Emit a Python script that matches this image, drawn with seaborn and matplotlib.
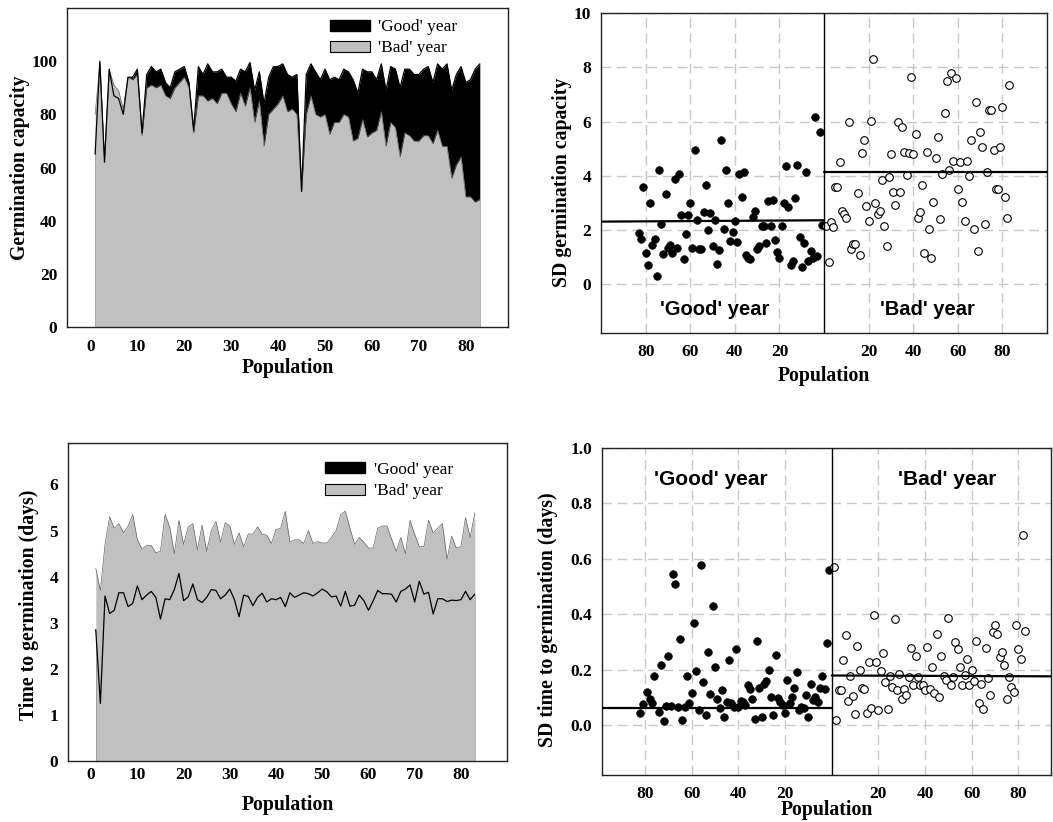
import numpy as np
import matplotlib
matplotlib.use("Agg")
import matplotlib.pyplot as plt
from matplotlib.patches import Patch
import seaborn as sns
import pandas as pd

# populations 1..83
population = np.arange(1, 84)

# germination capacity (%)
gc_good = [65, 100, 62, 97, 87, 86, 80, 94, 94, 97,
           73, 95, 98, 96, 97, 92, 90, 96, 97, 98,
           92, 74, 98, 95, 99, 96, 96, 97, 94, 94,
           92.5, 97, 96, 99.5, 89, 96, 84, 94, 98, 98,
           99, 95, 94, 95, 51, 95, 99, 96, 93, 97,
           93, 94, 93, 97, 96, 93, 88, 97, 96, 96,
           93, 99, 89, 98, 97, 90, 97, 97, 95, 95,
           97, 98, 92, 99, 97, 99, 89, 95, 98, 92,
           93, 97, 99]
gc_bad = [80, 99, 63, 97, 91, 89, 82, 94, 93, 95,
          72, 90, 91, 90, 91, 87, 86, 90, 92, 94,
          90, 73, 87, 87, 85, 86, 84, 88, 88, 84,
          81, 88, 83, 90, 77, 85, 68, 80, 82, 84,
          87, 81, 82, 80, 51, 80, 87, 80, 79, 80,
          72.5, 77, 77, 80, 79, 70, 71, 78, 71.5, 73,
          74, 81, 68, 77, 75, 64, 73, 72, 70, 70,
          72, 72, 69, 74, 68, 68, 56, 61, 64, 49,
          49, 47, 48]

# time to germination (days)
tg_good = [2.85, 1.25, 3.58, 3.2, 3.27, 3.65, 3.65, 3.35, 3.42, 3.8,
           3.5, 3.6, 3.68, 3.55, 3.08, 3.52, 3.5, 3.72, 4.07, 3.48,
           3.56, 3.84, 3.5, 3.44, 3.55, 3.72, 3.7, 3.52, 3.6, 3.73,
           3.5, 3.13, 3.6, 3.57, 3.37, 3.55, 3.64, 3.45, 3.52, 3.5,
           3.55, 3.35, 3.65, 3.55, 3.6, 3.65, 3.63, 3.58, 3.65, 3.73,
           3.67, 3.56, 3.58, 3.36, 3.68, 3.36, 3.38, 3.6, 3.48, 3.27,
           3.47, 3.7, 3.63, 3.63, 3.62, 3.45, 3.68, 3.73, 3.82, 3.45,
           3.9, 3.62, 3.66, 3.19, 3.52, 3.52, 3.46, 3.49, 3.48, 3.5,
           3.68, 3.5, 3.62]
tg_bad = [4.18, 3.7, 4.7, 5.3, 5.05, 5.15, 4.95, 5.1, 5.35, 4.8,
          4.6, 4.68, 4.68, 4.52, 4.55, 5.35, 5.08, 4.5, 5.22, 4.7,
          5.08, 5.15, 4.58, 5.12, 4.55, 5.0, 5.2, 4.75, 5.17, 5.1,
          4.7, 4.95, 4.65, 4.93, 4.92, 5.08, 4.92, 4.9, 4.72, 5.02,
          5.05, 5.42, 4.75, 4.8, 4.8, 4.72, 5.0, 4.72, 4.76, 4.73,
          4.73, 4.85, 5.0, 5.35, 5.42, 5.05, 4.7, 4.85, 4.75, 4.62,
          4.62, 5.05, 5.1, 5.1, 4.82, 4.55, 4.85, 4.5, 5.22, 4.92,
          4.65, 4.65, 5.22, 4.95, 5.05, 5.15, 4.38, 4.88, 4.62, 4.65,
          5.28, 4.85, 5.38]

# SD germination capacity, pops 1..83
sd_gc_good = [2.17, 5.62, 1.04, 6.17, 0.98, 1.23, 0.86, 4.15, 1.53, 0.65,
              1.75, 4.39, 3.19, 0.86, 0.71, 2.86, 4.36, 3.0, 2.15, 0.96,
              1.2, 1.62, 3.09, 2.15, 3.07, 1.53, 2.15, 2.15, 1.41, 1.29,
              2.72, 2.48, 0.92, 0.98, 1.07, 4.15, 3.21, 4.07, 1.56, 2.33,
              1.94, 1.6, 3.0, 4.23, 2.02, 5.31, 1.26, 0.74, 2.36, 1.41,
              2.64, 2.0, 3.66, 2.67, 1.29, 1.29, 2.37, 4.97, 1.35, 3.0,
              2.54, 1.87, 0.92, 2.54, 4.05, 1.35, 3.87, 1.17, 1.44, 1.35,
              3.34, 1.1, 2.23, 4.23, 0.31, 1.68, 1.44, 3.0, 0.71, 1.14,
              3.6, 1.68, 1.90]
sd_gc_bad = [2.15, 0.83, 2.3, 2.11, 3.58, 3.58, 4.52, 2.7, 2.58, 2.43,
             6.0, 1.29, 1.5, 1.5, 3.37, 1.08, 4.85, 5.31, 2.88, 2.33,
             6.04, 8.32, 2.98, 2.6, 2.7, 3.83, 2.15, 1.41, 3.95, 4.79,
             3.41, 2.94, 5.99, 3.41, 5.79, 4.88, 4.02, 4.85, 7.63, 4.81,
             5.56, 2.45, 2.67, 3.66, 1.14, 4.87, 2.05, 0.96, 3.03, 4.66,
             5.44, 2.42, 4.07, 6.32, 7.51, 4.2, 7.79, 4.54, 7.61, 3.53,
             4.5, 3.04, 2.33, 4.54, 4.01, 5.34, 2.02, 6.72, 1.23, 5.61,
             5.06, 2.21, 4.15, 6.42, 6.42, 4.97, 3.53, 3.53, 5.06, 6.54,
             3.23, 2.45, 7.36]
sd_gc_good_mean = [2.31, 2.36]
sd_gc_bad_mean = [4.15, 4.15]

# SD time to germination
sd_tg_good_pop = [82, 81, 79, 78, 77, 76, 74, 73, 72, 71, 70, 69, 68, 67, 66, 65,
                  64, 63, 62, 61, 60, 59, 58, 57, 56, 55, 54, 53, 52, 51, 50, 49,
                  48, 47, 46, 45, 44, 43, 42, 41, 40, 39, 38, 37, 36, 35, 34, 33,
                  32, 31, 30, 29, 28, 27, 26, 25, 24, 23, 22, 21, 20, 19, 18, 17,
                  16, 15, 14, 13, 12, 11, 10, 9, 8, 7, 6, 5, 4, 3, 2, 1]
sd_tg_good = [0.045, 0.076, 0.118, 0.093, 0.081, 0.178, 0.048, 0.218, 0.015, 0.069,
              0.251, 0.069, 0.545, 0.509, 0.064, 0.309, 0.018, 0.064, 0.176, 0.079,
              0.115, 0.367, 0.194, 0.055, 0.576, 0.155, 0.036, 0.264, 0.113, 0.43,
              0.21, 0.093, 0.063, 0.125, 0.03, 0.085, 0.234, 0.081, 0.064, 0.273,
              0.067, 0.088, 0.085, 0.073, 0.143, 0.13, 0.093, 0.021, 0.304, 0.133,
              0.03, 0.148, 0.158, 0.2, 0.103, 0.036, 0.253, 0.097, 0.085, 0.073,
              0.042, 0.164, 0.079, 0.103, 0.133, 0.19, 0.055, 0.067, 0.061, 0.109,
              0.03, 0.149, 0.091, 0.103, 0.084, 0.133, 0.176, 0.13, 0.295, 0.56]
sd_tg_bad = [0.572, 0.018, 0.125, 0.125, 0.234, 0.324, 0.088, 0.178, 0.105, 0.039,
             0.287, 0.2, 0.133, 0.13, 0.042, 0.227, 0.063, 0.398, 0.227, 0.055,
             0.194, 0.261, 0.155, 0.057, 0.178, 0.137, 0.382, 0.125, 0.184, 0.093,
             0.13, 0.109, 0.173, 0.279, 0.143, 0.251, 0.173, 0.143, 0.143, 0.127,
             0.281, 0.13, 0.21, 0.115, 0.33, 0.1, 0.248, 0.176, 0.164, 0.388,
             0.143, 0.173, 0.3, 0.276, 0.208, 0.143, 0.182, 0.239, 0.143, 0.2,
             0.158, 0.304, 0.079, 0.148, 0.058, 0.279, 0.17, 0.108, 0.337, 0.361,
             0.327, 0.245, 0.264, 0.218, 0.095, 0.173, 0.136, 0.118, 0.36, 0.273,
             0.239, 0.687, 0.339]
sd_tg_good_mean = [0.061, 0.061]
sd_tg_bad_mean = [0.179, 0.176]

mirror_ticks = [-80, -60, -40, -20, 20, 40, 60, 80]
mirror_labels = ["80", "60", "40", "20", "20", "40", "60", "80"]

sns.set_style("white")
plt.rcParams['font.family'] = ['Liberation Serif', 'DejaVu Serif']
plt.rcParams['font.weight'] = 'bold'
plt.rcParams['axes.labelweight'] = 'bold'
for k in ['text.color', 'axes.labelcolor', 'xtick.color', 'ytick.color']:
    plt.rcParams[k] = 'black'

GREY = '#c0c0c0'
TICK_FS = 12.5
LABEL_FS = 14.2
fig = plt.figure(figsize=(10.53, 8.22), dpi=100)


def style(ax):
    for s in ax.spines.values():
        s.set_color('#222222')
        s.set_linewidth(1.0)
    ax.tick_params(length=0, labelsize=TICK_FS)
    ax.xaxis.label.set_size(LABEL_FS)
    ax.yaxis.label.set_size(LABEL_FS)
    ax.xaxis.label.set_va('center')
    ax.yaxis.label.set_va('center')


def area_panel(ax, good, bad):
    ax.fill_between(population, 0, good, color='black', lw=0)
    ax.fill_between(population, 0, bad, color=GREY, lw=0)
    ax.plot(population, bad, color='#666666', lw=0.5)
    sns.lineplot(x=population, y=good, color='black', lw=0.9, ax=ax)
    handles = [Patch(facecolor='black', edgecolor='black', label="'Good' year"),
               Patch(facecolor=GREY, edgecolor='black', lw=0.8, label="'Bad' year")]
    return handles


legend_kw = dict(loc='upper left', frameon=False,
                 prop={'family': 'Liberation Serif', 'weight': 'normal', 'size': 12.5},
                 handlelength=2.3, handleheight=0.6, labelspacing=0.3, borderpad=0,
                 borderaxespad=0, handletextpad=0.5)

# panel 1
ax1 = fig.add_axes([0.0636, 0.6022, 0.4188, 0.388])
h = area_panel(ax1, gc_good, gc_bad)
ax1.set_xlim(-5, 89)
ax1.set_ylim(0, 120)
ax1.set_xticks(range(0, 81, 10))
ax1.set_yticks(range(0, 101, 20))
ax1.set_xlabel('Population')
ax1.set_ylabel('Germination capacity')
style(ax1)
ax1.tick_params(axis='x', pad=9)
ax1.tick_params(axis='y', pad=7)
ax1.xaxis.set_label_coords(0.5, -0.13)
ax1.yaxis.set_label_coords(-0.107, 0.5)
ax1.legend(handles=h, bbox_to_anchor=(0.596, 0.965), **legend_kw)

# panel 3
ax3 = fig.add_axes([0.0646, 0.0742, 0.417, 0.3869])
h = area_panel(ax3, tg_good, tg_bad)
ax3.set_xlim(-5, 90)
ax3.set_ylim(0, 6.9)
ax3.set_xticks(range(0, 81, 10))
ax3.set_yticks(range(0, 7))
ax3.set_xlabel('Population')
ax3.set_ylabel('Time to germination (days)')
style(ax3)
ax3.tick_params(axis='x', pad=4)
ax3.tick_params(axis='y', pad=7)
ax3.xaxis.set_label_coords(0.5, -0.138)
ax3.yaxis.set_label_coords(-0.09, 0.49)
ax3.legend(handles=h, bbox_to_anchor=(0.585, 0.94), **legend_kw)


def mirror_panel(ax, good_pop, good, bad, good_mean, bad_mean, xlim):
    ax.grid(True, ls=(0, (7, 4)), color='#c8c8c8', lw=1)
    ax.set_axisbelow(True)
    gdf = pd.DataFrame({'x': -np.asarray(good_pop), 'y': good})
    bdf = pd.DataFrame({'x': np.arange(1, len(bad) + 1), 'y': bad})
    sns.scatterplot(data=gdf, x='x', y='y', color='black', s=30, edgecolor='black',
                    linewidth=0.5, ax=ax, zorder=3)
    sns.scatterplot(data=bdf, x='x', y='y', facecolor='white', s=30, edgecolor='black',
                    linewidth=0.8, ax=ax, zorder=3)
    ax.axvline(0, color='black', lw=1, zorder=4)
    ax.plot([xlim[0], 0], good_mean, color='black', lw=1.6, zorder=4)
    ax.plot([0, xlim[1]], bad_mean, color='black', lw=1.6, zorder=4)
    ax.set_xlim(*xlim)
    ax.set_xticks(mirror_ticks)
    ax.set_xticklabels(mirror_labels)
    ax.set_xlabel('Population')


# panel 2
ax2 = fig.add_axes([0.5708, 0.5949, 0.4236, 0.389])
mirror_panel(ax2, population, sd_gc_good, sd_gc_bad, sd_gc_good_mean, sd_gc_bad_mean, (-100, 100))
ax2.set_ylim(-1.8, 10)
ax2.set_yticks(range(0, 11, 2))
ax2.set_ylabel('SD germination capacity')
style(ax2)
ax2.tick_params(axis='x', pad=8)
ax2.tick_params(axis='y', pad=7)
ax2.xaxis.set_label_coords(0.5, -0.134)
ax2.yaxis.set_label_coords(-0.087, 0.472)
for x, txt in [(-49, "'Good' year"), (46.3, "'Bad' year")]:
    ax2.text(x, -0.92, txt, ha='center', va='center', fontsize=14.5,
             family='Liberation Sans', weight='bold', color='black')

# panel 4
ax4 = fig.add_axes([0.5717, 0.0572, 0.4264, 0.3978])
mirror_panel(ax4, sd_tg_good_pop, sd_tg_good, sd_tg_bad, sd_tg_good_mean, sd_tg_bad_mean, (-98.5, 94))
ax4.set_ylim(-0.18, 1.0)
ax4.set_yticks(np.arange(0, 1.01, 0.2))
ax4.set_yticklabels(['0.0', '0.2', '0.4', '0.6', '0.8', '1.0'])
ax4.set_ylabel('SD time to germination (days)')
style(ax4)
ax4.tick_params(axis='x', pad=8)
ax4.tick_params(axis='y', pad=7)
ax4.xaxis.set_label_coords(0.5, -0.107)
ax4.yaxis.set_label_coords(-0.121, 0.474)
for x, txt in [(-51.7, "'Good' year"), (49.7, "'Bad' year")]:
    ax4.text(x, 0.885, txt, ha='center', va='center', fontsize=15,
             family='Liberation Sans', weight='bold', color='black')

fig.savefig('out.png', dpi=100)
